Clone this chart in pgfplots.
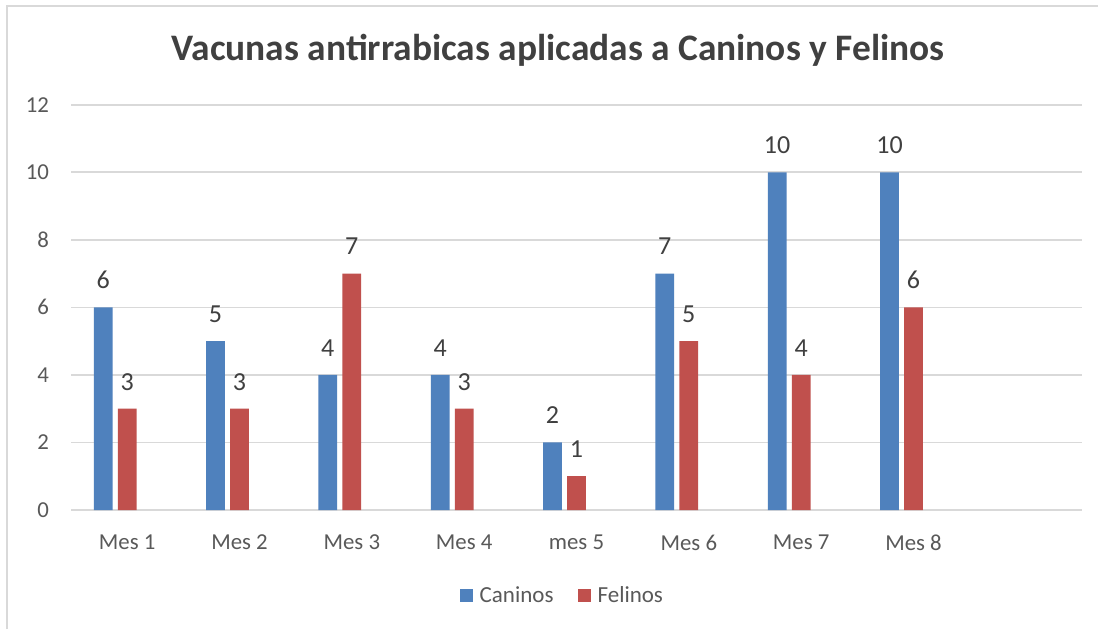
\documentclass[border=0pt]{standalone}
\usepackage{pgfplots}
\pgfplotsset{compat=1.18}
\usepackage{fontspec}
\setmainfont{Carlito}
\definecolor{cblue}{HTML}{4F81BD}
\definecolor{cred}{HTML}{C0504D}
\definecolor{gridc}{HTML}{D9D9D9}
\definecolor{tickc}{HTML}{595959}
\definecolor{labc}{HTML}{404040}
\pgfplotstableread{
x caninos felinos
0 6 3
1 5 3
2 4 7
3 4 3
4 2 1
5 7 5
6 10 4
7 10 6
}\datatable
\begin{document}
\begin{tikzpicture}[x=0.5pt,y=0.5pt]
\path[use as bounding box] (0,0) rectangle (1098,629);
\fill[white] (0,0) rectangle (1098,629);
\draw[gridc, line width=1pt] (7,0) -- (7,623) -- (1098,623);
\node[font=\fontsize{18.7}{22}\selectfont\bfseries, text=labc] at (558,579) {Vacunas antirrabicas aplicadas a Caninos y Felinos};
\begin{axis}[
  at={(71pt*0.5,119pt*0.5)}, anchor=south west,
  scale only axis, width=505.5pt, height=202.65pt,
  xmin=-0.5, xmax=8.5, ymin=0, ymax=12,
  ytick={0,2,...,12},
  xtick={0,...,7},
  xticklabels={Mes 1,Mes 2,Mes 3,Mes 4,mes 5,Mes 6,Mes 7,Mes 8},
  ymajorgrids, grid style={gridc, line width=0.8pt},
  axis x line*=bottom, axis y line*=left,
  y axis line style={draw=none},
  x axis line style={gridc, line width=0.9pt, -},
  major tick length=0pt,
  tick style={draw=none},
  /pgf/number format/assume math mode=true,
  ticklabel style={font=\fontsize{11.4}{13}\selectfont, text=tickc},
  yticklabel style={xshift=-7.5pt},
  xticklabel style={yshift=-9pt},
  ybar, bar width=9.35pt,
  nodes near coords,
  nodes near coords style={font=\fontsize{13}{15}\selectfont, text=labc, anchor=base, inner sep=0pt, yshift=9.3pt},
  legend style={at={(0.487,-0.212)}, anchor=center, draw=none, legend columns=2,
    font=\fontsize{11.5}{13}\selectfont, text=tickc,
    /tikz/every even column/.append style={column sep=10pt},
    /tikz/every odd column/.append style={column sep=1.5pt}},
  legend image code/.code={\fill[#1] (0pt,-3.2pt) rectangle (6.5pt,3.3pt);},
  clip=false,
]
\addplot[fill=cblue, draw=none, bar shift=-12pt] table[x=x,y=caninos] {\datatable};
\addplot[fill=cred, draw=none, bar shift=0pt] table[x=x,y=felinos] {\datatable};
\legend{Caninos,Felinos}
\end{axis}
\end{tikzpicture}
\end{document}
